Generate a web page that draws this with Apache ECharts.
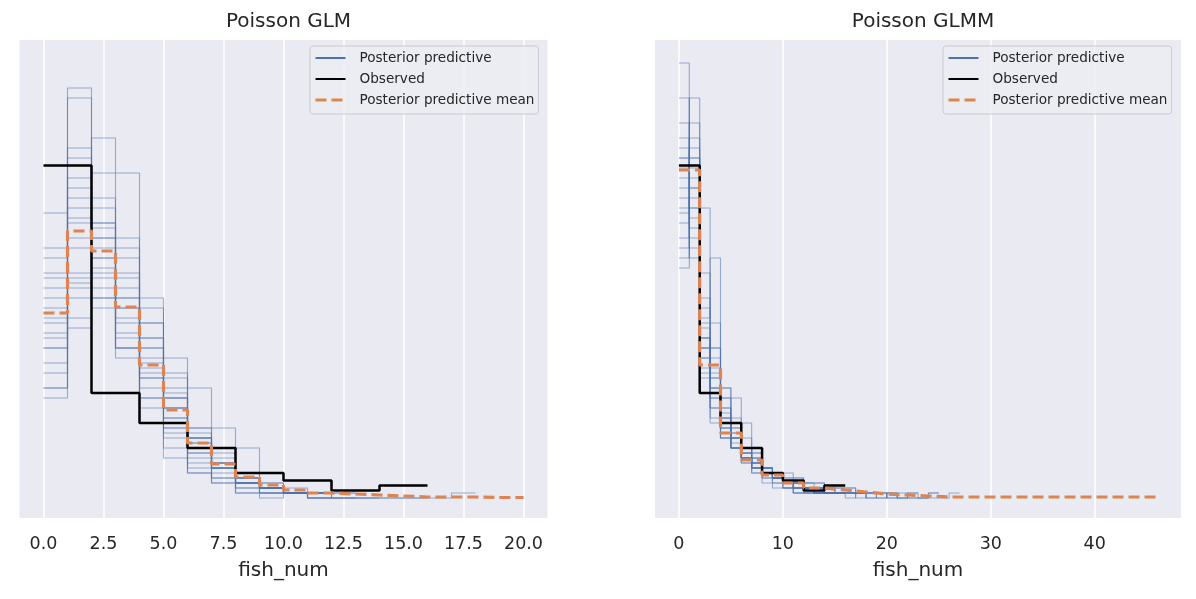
<!DOCTYPE html>
<html lang="en">
<head>
<meta charset="utf-8">
<title>Poisson GLM / GLMM posterior predictive check</title>
<script src="https://cdn.jsdelivr.net/npm/echarts@6.0.0/dist/echarts.min.js"></script>
<style>
  html, body { margin: 0; background: #ffffff; }
  #main { width: 1196px; height: 599px; }
</style>
</head>
<body>
<div id="main"></div>
<script>
// every histogram is built from this many observations
const nObs = 250;

// observed fish_num, counts in bins of width 2 from 0
const obsBinWidth = 2;
const obsCounts = [133, 42, 30, 20, 10, 7, 3, 5];

// Poisson GLM: posterior predictive draws, counts in unit bins from 0
const glmDraws = [
    [36, 55, 50, 40, 27, 18, 11, 6, 3, 2, 1, 1],
    [57, 70, 52, 33, 18, 10, 5, 3, 1, 1],
    [20, 40, 55, 52, 35, 22, 12, 7, 4, 2, 1],
    [45, 82, 60, 30, 15, 8, 5, 3, 1, 0, 1],
    [22, 45, 48, 45, 35, 24, 12, 6, 10, 2, 1, 0, 0, 0],
    [40, 60, 65, 38, 22, 12, 6, 4, 2, 1],
    [30, 43, 40, 42, 32, 25, 14, 14, 5, 3, 1, 1],
    [50, 62, 44, 32, 24, 16, 10, 6, 3, 2, 1, 0, 0],
    [25, 36, 72, 65, 25, 13, 7, 4, 2, 1],
    [33, 58, 46, 28, 38, 20, 13, 7, 3, 2, 1, 1],
    [42, 52, 38, 36, 28, 21, 14, 10, 4, 2, 1, 1, 1],
    [22, 44, 58, 48, 30, 20, 12, 8, 4, 2, 1, 1],
    [38, 68, 55, 35, 20, 14, 8, 5, 3, 2, 1, 1],
    [48, 50, 42, 38, 26, 18, 11, 7, 4, 3, 2, 1, 0, 0, 0, 0],
    [32, 64, 52, 40, 24, 16, 9, 6, 3, 2, 1, 0, 1],
    [35, 42, 48, 50, 32, 20, 10, 6, 3, 2, 1, 0, 0, 0, 0, 0, 0, 1],
    [44, 56, 45, 30, 30, 18, 12, 7, 4, 2, 1, 1],
    [27, 34, 40, 44, 40, 28, 22, 9, 3, 1, 1, 1],
    [30, 80, 54, 30, 20, 14, 9, 6, 3, 2, 1, 1]
];
// GLM posterior predictive mean, unit bins from 0 to 20
const glmMeanWidth = 1;
const glmMean = [37, 53.4, 49.4, 38.2, 26.6, 17.6, 11, 6.8, 4.2, 2.6, 1.6, 1, 0.8, 0.6, 0.4, 0.2, 0.2, 0.2, 0.1, 0.1];

// Poisson GLMM: posterior predictive draws, counts in unit bins from 0
const glmmDraws = [
    [66, 64, 32, 22, 14, 12, 8, 7, 5, 4, 3, 3, 2, 2, 1, 1, 1, 1, 0, 1, 0, 0, 1],
    [87, 50, 32, 18, 12, 10, 8, 6, 5, 4, 3, 3, 2, 2, 2, 1, 1, 1, 1, 0, 1, 0, 0, 0, 1],
    [55, 75, 35, 25, 16, 12, 8, 6, 5, 4, 3, 2, 2, 1, 1],
    [70, 58, 28, 20, 18, 14, 9, 8, 6, 4, 3, 3, 2, 2, 1, 1, 1, 1, 0, 0, 1],
    [48, 68, 40, 30, 18, 12, 9, 7, 5, 4, 3, 2, 2, 1, 1],
    [62, 72, 25, 15, 12, 10, 10, 8, 6, 5, 4, 4, 3, 3, 2, 2, 2, 1, 1, 1, 0, 1, 0, 0, 0, 0, 1],
    [58, 56, 38, 28, 20, 14, 10, 7, 5, 4, 3, 2, 2, 1, 1, 1],
    [75, 62, 30, 18, 13, 11, 8, 6, 5, 4, 4, 3, 3, 2, 2, 1, 1, 1, 1],
    [52, 60, 45, 35, 20, 12, 8, 6, 4, 3, 2, 1, 1, 1],
    [68, 68, 26, 20, 15, 13, 9, 7, 6, 4, 3, 3, 2, 2, 1, 1, 1, 0, 1],
    [60, 52, 30, 26, 22, 16, 12, 9, 6, 5, 3, 3, 2, 1, 1, 1, 0, 1],
    [80, 54, 24, 16, 12, 10, 9, 7, 6, 5, 5, 4, 3, 3, 2, 2, 2, 1, 1, 1, 1, 0, 1, 0, 1],
    [50, 80, 34, 24, 16, 12, 8, 6, 5, 4, 3, 2, 2, 1, 1, 1, 1],
    [64, 48, 58, 30, 16, 10, 7, 5, 4, 3, 2, 1, 1, 1],
    [72, 66, 30, 22, 14, 10, 8, 6, 5, 4, 3, 2, 2, 2, 1, 1, 1, 1],
    [57, 62, 36, 48, 14, 10, 7, 5, 3, 2, 2, 1, 1, 1, 1],
    [46, 70, 28, 22, 22, 20, 15, 9, 6, 4, 2, 2, 1, 1, 1, 1],
    [68, 58, 32, 24, 17, 13, 10, 8, 6, 4, 3, 2, 2, 1, 1, 1]
];
// GLMM posterior predictive mean, bins of width 2 from 0 to 46
const glmmMeanWidth = 2;
const glmmMean = [131.2, 53.2, 26, 15.2, 9.2, 6, 4, 3.2, 2.4, 1.6, 1.2, 0.8,
    0.4, 0.4, 0.4, 0.4, 0.4, 0.4, 0.4, 0.4, 0.4, 0.4, 0.4];

const glmTicks = [0, 2.5, 5, 7.5, 10, 12.5, 15, 17.5, 20];
const glmmTicks = [0, 10, 20, 30, 40];
const titles = ['Poisson GLM', 'Poisson GLMM'];

const blue = '#4c72b0';
const orange = '#dd8452';
const ink = '#262626';
const font = 'DejaVu Sans';

// steps-post outline: one point per bin edge, last height repeated
function stepPoints(counts, binWidth) {
    const pts = counts.map((c, i) => [i * binWidth, c / (nObs * binWidth)]);
    pts.push([counts.length * binWidth, counts[counts.length - 1] / (nObs * binWidth)]);
    return pts;
}

function panelSeries(idx, draws, mean, meanWidth) {
    const out = [];
    draws.forEach(d => out.push({
        name: 'Posterior predictive', type: 'line', step: 'end',
        xAxisIndex: idx, yAxisIndex: idx, symbol: 'none', silent: true, z: 2,
        itemStyle: { color: blue },
        lineStyle: { color: blue, width: 1.1, opacity: 0.55 },
        data: stepPoints(d, 1)
    }));
    out.push({
        name: 'Observed', type: 'line', step: 'end',
        xAxisIndex: idx, yAxisIndex: idx, symbol: 'none', silent: true, z: 3,
        itemStyle: { color: '#000' },
        lineStyle: { color: '#000', width: 2.5 },
        data: stepPoints(obsCounts, obsBinWidth)
    });
    out.push({
        name: 'Posterior predictive mean', type: 'line', step: 'end',
        xAxisIndex: idx, yAxisIndex: idx, symbol: 'none', silent: true, z: 4,
        itemStyle: { color: orange },
        lineStyle: { color: orange, width: 3.2, type: [11, 5] },
        data: stepPoints(mean, meanWidth)
    });
    return out;
}

function xAxisFor(idx, min, max, ticks, fmt) {
    return {
        type: 'value', gridIndex: idx, min: min, max: max,
        axisLine: { show: false },
        axisTick: { show: false, customValues: ticks },
        axisLabel: { customValues: ticks, formatter: fmt, margin: 17,
            fontFamily: font, fontSize: 17.5, color: ink },
        splitLine: { show: true, lineStyle: { color: '#ffffff', width: 1.5 } },
        name: 'fish_num', nameLocation: 'middle', nameGap: 43,
        nameTextStyle: { fontFamily: font, fontSize: 20, color: ink }
    };
}

function yAxisFor(idx) {
    return {
        type: 'value', gridIndex: idx, min: -0.016, max: 0.3664,
        axisLine: { show: false }, axisTick: { show: false },
        axisLabel: { show: false }, splitLine: { show: false }
    };
}

function legendFor(left) {
    const noMarker = { color: 'rgba(0,0,0,0)', borderWidth: 0, opacity: 0 };
    return {
        left: left, top: 46, orient: 'vertical',
        padding: [5, 4, 7, 4], itemWidth: 30, itemHeight: 14, itemGap: 7,
        backgroundColor: 'rgba(236,236,243,0.9)', borderColor: '#cccccc',
        borderWidth: 1, borderRadius: 3,
        itemStyle: noMarker,
        textStyle: { fontFamily: font, fontSize: 13.6, color: ink, padding: [0, 0, 0, 9] },
        data: [
            { name: 'Posterior predictive', itemStyle: noMarker,
              lineStyle: { color: blue, width: 2, opacity: 1 } },
            { name: 'Observed', itemStyle: noMarker,
              lineStyle: { color: '#000', width: 2 } },
            { name: 'Posterior predictive mean', itemStyle: noMarker,
              lineStyle: { color: orange, width: 3, type: [11, 5] } }
        ]
    };
}

const chart = echarts.init(document.getElementById('main'));
chart.setOption({
    animation: false,
    title: [
        { text: titles[0], left: 283.5, top: 7, textAlign: 'center',
          textStyle: { fontFamily: font, fontSize: 20, fontWeight: 'normal', color: ink } },
        { text: titles[1], left: 918, top: 7, textAlign: 'center',
          textStyle: { fontFamily: font, fontSize: 20, fontWeight: 'normal', color: ink } }
    ],
    legend: [legendFor(310), legendFor(943)],
    grid: [
        { left: 19.5, top: 40, width: 528, height: 478, containLabel: false,
          show: true, backgroundColor: '#eaeaf2', borderWidth: 0 },
        { left: 655, top: 40, width: 526, height: 478, containLabel: false,
          show: true, backgroundColor: '#eaeaf2', borderWidth: 0 }
    ],
    xAxis: [
        xAxisFor(0, -1, 21, glmTicks, v => v.toFixed(1)),
        xAxisFor(1, -2.3, 48.3, glmmTicks, v => String(v))
    ],
    yAxis: [yAxisFor(0), yAxisFor(1)],
    series: panelSeries(0, glmDraws, glmMean, glmMeanWidth)
        .concat(panelSeries(1, glmmDraws, glmmMean, glmmMeanWidth))
});
</script>
</body>
</html>
